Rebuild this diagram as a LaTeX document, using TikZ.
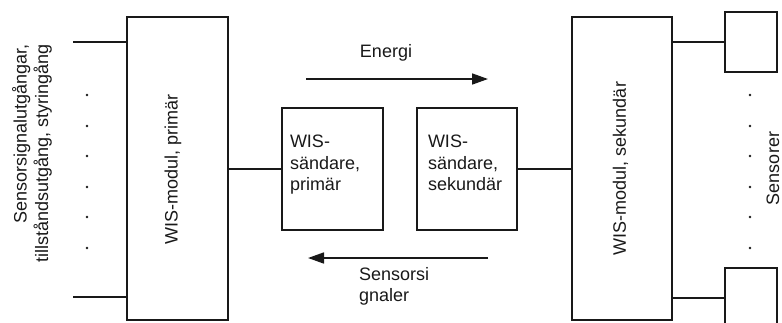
\documentclass[tikz,border=0pt]{standalone}
\usepackage{fontspec}
\setmainfont{Liberation Sans}
\usetikzlibrary{arrows.meta}
\tikzset{
  box/.style={draw=black!90, line width=1.7pt, rectangle, inner sep=0pt, outer sep=0pt},
  lbl/.style={font=\fontsize{18}{21.5}\selectfont, inner sep=0pt, outer sep=0pt, text=black!90},
  wire/.style={draw=black!90, line width=1.7pt},
  flow/.style={draw=black!90, line width=1.7pt, -{Triangle[length=16pt,width=11pt]}},
  dot/.style={circle, fill=black!90, inner sep=0pt, minimum size=2.6pt}
}
\begin{document}
\begin{tikzpicture}[x=1pt,y=-1pt]
\useasboundingbox (0,0) rectangle (782,322);
% main modules
\node[box, minimum width=101pt, minimum height=303pt] (pm) at (177.5,168.5) {};
\node[box, minimum width=100pt, minimum height=303pt] (sm) at (622,168.5) {};
\node[lbl, rotate=90] (pmt) at (173,169) {WIS-modul, primär};
\node[lbl, rotate=90] (smt) at (620.5,168.5) {WIS-modul, sekundär};
% transmitters
\node[box, minimum width=101pt, minimum height=122pt] (ps) at (332.5,169) {};
\node[box, minimum width=100pt, minimum height=122pt] (ss) at (467,169) {};
\node[lbl, align=left, anchor=north west] (pst) at (290,135) {WIS-\\sändare,\\primär};
\node[lbl, align=left, anchor=north west] (sst) at (428,135) {WIS-\\sändare,\\sekundär};
% sensors
\node[box, minimum width=52pt, minimum height=60pt] (s1) at (751,42) {};
\node[box, minimum width=52pt, minimum height=60pt] (s2) at (751,298) {};
\node[lbl, rotate=90] (sen) at (773,168.5) {Sensorer};
% connectors
\draw[wire] (pm.east |- ps.west) -- (ps.west);
\draw[wire] (ss.east) -- (sm.west |- ss.east);
\coordinate (in1) at (73,42);
\coordinate (in2) at (73,297);
\draw[wire] (in1) -- (in1 -| pm.west);
\draw[wire] (in2) -- (in2 -| pm.west);
\draw[wire] (s1.west -| sm.east) -- (s1.west);
\draw[wire] (s2.west -| sm.east) -- (s2.west);
% left label
\node[lbl, rotate=90, align=right, anchor=north east] (inl) at (12,44) {Sensorsignalutgångar,\\tillståndsutgång, styringång};
% dots
\foreach \y [count=\i] in {95,126,156,187,217,248} {
  \node[dot] (ld\i) at (87,\y) {};
  \node[dot] (rd\i) at (750,\y) {};
}
% flows
\coordinate (e1) at (306,79);
\coordinate (e2) at (488,79);
\coordinate (f1) at (488,258);
\coordinate (f2) at (308,258);
\draw[flow] (e1) -- (e2);
\draw[flow] (f1) -- (f2);
\node[lbl, anchor=base] (en) at (386,57) {Energi};
\node[lbl, align=left, anchor=north west] (sig) at (359,267) {Sensorsi\\gnaler};
\end{tikzpicture}
\end{document}
